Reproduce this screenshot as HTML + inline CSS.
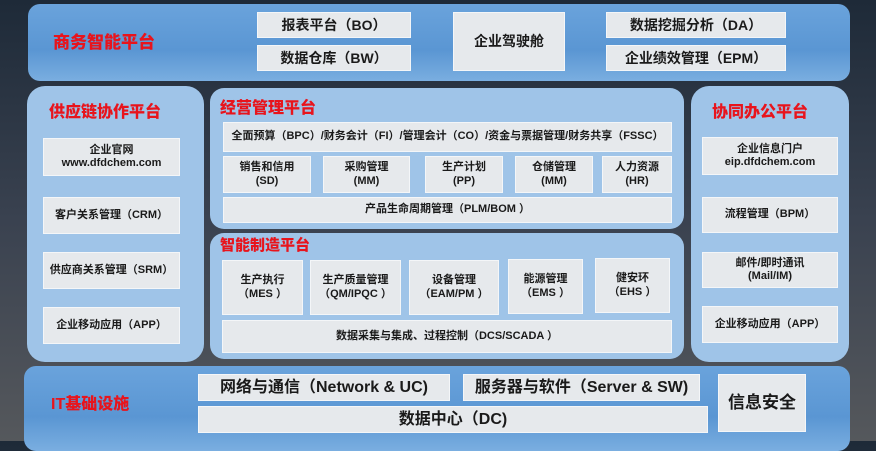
<!DOCTYPE html>
<html><head><meta charset="utf-8"><style>
*{margin:0;padding:0;box-sizing:border-box}
body{width:876px;height:441px;overflow:hidden;background:linear-gradient(180deg,#1e2a38 0%,#3a4250 50%,#55585c 100%);font-family:"Liberation Sans","Noto Sans CJK SC",sans-serif;position:relative}
.a{position:absolute}
.band{background:linear-gradient(180deg,#6aa3dc 0%,#5a96d3 60%,#7aaee0 100%);border-radius:12px}
.pan{background:#9fc4e8;border-radius:18px}
.b{position:absolute;background:#e6e9ec;display:flex;align-items:center;justify-content:center;text-align:center;font-weight:bold;color:#1a1a1a;line-height:1.2;border:1px solid #f4f6f8;white-space:nowrap}
.t{position:absolute;color:#e8141c;font-weight:900;white-space:nowrap}
.s11{font-size:11px}.s10{font-size:10px}.s14{font-size:14px}.s16{font-size:16px}
</style></head><body>
<div class="a band" style="left:28px;top:4px;width:822px;height:77px"></div>
<div class="t" style="left:53px;top:28px;font-size:17px">商务智能平台</div>
<div class="b s14" style="left:257px;top:12px;width:154px;height:26px">报表平台（BO）</div>
<div class="b s14" style="left:257px;top:45px;width:154px;height:26px">数据仓库（BW）</div>
<div class="b s14" style="left:453px;top:12px;width:112px;height:59px">企业驾驶舱</div>
<div class="b s14" style="left:606px;top:12px;width:180px;height:26px">数据挖掘分析（DA）</div>
<div class="b s14" style="left:606px;top:45px;width:180px;height:26px">企业绩效管理（EPM）</div>

<div class="a pan" style="left:27px;top:86px;width:177px;height:276px"></div>
<div class="t" style="left:49px;top:98px;font-size:16px">供应链协作平台</div>
<div class="b s11" style="left:43px;top:138px;width:137px;height:38px">企业官网<br>www.dfdchem.com</div>
<div class="b s11" style="left:43px;top:197px;width:137px;height:37px">客户关系管理（CRM）</div>
<div class="b s11" style="left:43px;top:252px;width:137px;height:37px">供应商关系管理（SRM）</div>
<div class="b s11" style="left:43px;top:307px;width:137px;height:37px">企业移动应用（APP）</div>

<div class="a pan" style="left:210px;top:88px;width:474px;height:141px;border-radius:14px"></div>
<div class="t" style="left:220px;top:94px;font-size:16px">经营管理平台</div>
<div class="b s11" style="left:223px;top:122px;width:449px;height:30px">全面预算（BPC）/财务会计（FI）/管理会计（CO）/资金与票据管理/财务共享（FSSC）</div>
<div class="b s11" style="left:223px;top:156px;width:88px;height:37px">销售和信用<br>(SD)</div>
<div class="b s11" style="left:323px;top:156px;width:87px;height:37px">采购管理<br>(MM)</div>
<div class="b s11" style="left:425px;top:156px;width:78px;height:37px">生产计划<br>(PP)</div>
<div class="b s11" style="left:515px;top:156px;width:78px;height:37px">仓储管理<br>(MM)</div>
<div class="b s11" style="left:602px;top:156px;width:70px;height:37px">人力资源<br>(HR)</div>
<div class="b s11" style="left:223px;top:197px;width:449px;height:26px">产品生命周期管理（PLM/BOM ）</div>

<div class="a pan" style="left:210px;top:233px;width:474px;height:126px;border-radius:14px"></div>
<div class="t" style="left:220px;top:234px;font-size:15px">智能制造平台</div>
<div class="b s11" style="left:222px;top:260px;width:81px;height:55px">生产执行<br>（MES ）</div>
<div class="b s11" style="left:310px;top:260px;width:91px;height:55px">生产质量管理<br>（QM/IPQC ）</div>
<div class="b s11" style="left:409px;top:260px;width:90px;height:55px">设备管理<br>（EAM/PM ）</div>
<div class="b s11" style="left:508px;top:259px;width:75px;height:55px">能源管理<br>（EMS ）</div>
<div class="b s11" style="left:595px;top:258px;width:75px;height:55px">健安环<br>（EHS ）</div>
<div class="b s11" style="left:222px;top:320px;width:450px;height:33px">数据采集与集成、过程控制（DCS/SCADA ）</div>

<div class="a pan" style="left:691px;top:86px;width:158px;height:276px"></div>
<div class="t" style="left:712px;top:98px;font-size:16px">协同办公平台</div>
<div class="b s11" style="left:702px;top:137px;width:136px;height:38px">企业信息门户<br>eip.dfdchem.com</div>
<div class="b s11" style="left:702px;top:197px;width:136px;height:36px">流程管理（BPM）</div>
<div class="b s11" style="left:702px;top:252px;width:136px;height:36px">邮件/即时通讯<br>(Mail/IM)</div>
<div class="b s11" style="left:702px;top:306px;width:136px;height:37px">企业移动应用（APP）</div>

<div class="a band" style="left:24px;top:366px;width:826px;height:85px"></div>
<div class="t" style="left:51px;top:390px;font-size:16px">IT基础设施</div>
<div class="b s16" style="left:198px;top:374px;width:252px;height:27px">网络与通信（Network &amp; UC)</div>
<div class="b s16" style="left:463px;top:374px;width:237px;height:27px">服务器与软件（Server &amp; SW)</div>
<div class="b s16" style="left:198px;top:406px;width:510px;height:27px">数据中心（DC)</div>
<div class="b" style="left:718px;top:374px;width:88px;height:58px;font-size:17px">信息安全</div>
</body></html>
